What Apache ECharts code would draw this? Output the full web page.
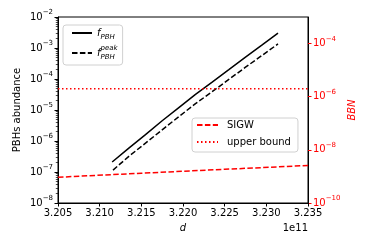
<!DOCTYPE html>
<html><head><meta charset="utf-8">
<script src="https://cdn.jsdelivr.net/npm/echarts@6/dist/echarts.min.js"></script>
<style>html,body{margin:0;padding:0;background:#fff}#c{width:374px;height:249px}</style>
</head><body><div id="c"></div>
<script>
// d in units of 1e11
const dPBH = [3.2115, 3.2135, 3.2155, 3.2175, 3.2195, 3.2215, 3.2235, 3.2255, 3.2275, 3.2295, 3.2314];
const fPBH = [2.1e-7, 5.9e-7, 1.6e-6, 4.5e-6, 1.2e-5, 3.2e-5, 7.9e-5, 2.0e-4, 5.1e-4, 1.26e-3, 3.0e-3];
const dPeak = [3.2116, 3.2135, 3.2155, 3.2175, 3.2195, 3.2215, 3.2235, 3.2255, 3.2275, 3.2295, 3.2314];
const fPeak = [1.15e-7, 3.2e-7, 8.5e-7, 2.3e-6, 6.1e-6, 1.6e-5, 3.9e-5, 9.7e-5, 2.4e-4, 5.8e-4, 1.35e-3];
const dSIGW = [3.205, 3.215, 3.225, 3.235];
const sigw = [9.3e-10, 1.32e-9, 1.85e-9, 2.6e-9];
const dBound = [3.205, 3.235];
const upperBound = [2e-6, 2e-6];
const leftTicks = [1e-8, 1e-7, 1e-6, 1e-5, 1e-4, 1e-3, 1e-2];
const rightTicks = [1e-10, 1e-8, 1e-6, 1e-4];
const minorMultipliers = [2, 3, 4, 5, 6, 7, 8, 9];

const FONT = 'DejaVu Sans';
const minorLeft = [];
for (let e = -8; e < -2; e++) minorMultipliers.forEach(k => minorLeft.push(k * Math.pow(10, e)));

function pairs(xs, ys) { return xs.map((x, i) => [x, ys[i]]); }
function expFmt(v) {
  const e = Math.round(Math.log10(v));
  return '{b|10}{s|' + (e < 0 ? '\u2212' : '') + Math.abs(e) + '}';
}
const richL = {
  b: {fontSize: 10, lineHeight: 16, fontFamily: FONT, color: '#000'},
  s: {fontSize: 7, lineHeight: 9, verticalAlign: 'top', fontFamily: FONT, color: '#000'}
};
const richR = {
  b: {fontSize: 10, lineHeight: 16, fontFamily: FONT, color: '#ff0000'},
  s: {fontSize: 7, lineHeight: 9, verticalAlign: 'top', fontFamily: FONT, color: '#ff0000'}
};

const chart = echarts.init(document.getElementById('c'), null, {renderer: 'canvas'});
chart.setOption({
  animation: false,
  textStyle: {fontFamily: FONT},
  grid: {left: 58, right: 66, top: 17, bottom: 46, show: true, borderColor: '#000', borderWidth: 1, backgroundColor: 'transparent'},
  xAxis: {
    type: 'value', min: 3.205, max: 3.235, interval: 0.005,
    name: 'd', nameLocation: 'middle', nameGap: 20,
    nameTextStyle: {fontStyle: 'italic', fontSize: 10, fontFamily: FONT, color: '#000'},
    axisLine: {lineStyle: {color: '#000', width: 1}},
    axisTick: {length: 3.5, lineStyle: {color: '#000'}},
    axisLabel: {margin: 5, fontSize: 10, fontFamily: FONT, color: '#000', formatter: v => v.toFixed(3)},
    splitLine: {show: false}
  },
  yAxis: [
    {
      type: 'log', logBase: 10, min: 1e-8, max: 1e-2, position: 'left',
      name: 'PBHs abundance', nameLocation: 'middle', nameGap: 36, nameRotate: 90, nameMoveOverlap: false,
      nameTextStyle: {fontSize: 10, fontFamily: FONT, color: '#000'},
      axisLine: {show: true, lineStyle: {color: '#000', width: 1}},
      axisTick: {show: true, length: 3.5, customValues: leftTicks, lineStyle: {color: '#000'}},
      axisLabel: {margin: 5, customValues: leftTicks, formatter: expFmt, rich: richL},
      splitLine: {show: false}
    },
    {
      type: 'log', logBase: 10, min: 1e-10, max: 1e-3, position: 'right',
      name: 'BBN', nameLocation: 'middle', nameGap: 39, nameRotate: 90, nameMoveOverlap: false,
      nameTextStyle: {fontSize: 10, fontStyle: 'italic', fontFamily: FONT, color: '#ff0000'},
      axisLine: {show: true, lineStyle: {color: '#000', width: 1}},
      axisTick: {show: true, length: 3.5, customValues: rightTicks, lineStyle: {color: '#ff0000'}},
      axisLabel: {margin: 5, customValues: rightTicks, formatter: expFmt, rich: richR},
      splitLine: {show: false}
    },
    {
      type: 'log', logBase: 10, min: 1e-8, max: 1e-2, position: 'left',
      axisLine: {show: false},
      axisTick: {show: true, length: 2.2, customValues: minorLeft, lineStyle: {color: '#000', width: 0.7}},
      axisLabel: {show: false},
      splitLine: {show: false}
    }
  ],
  legend: [
    {
      data: ['fPBH', 'fPeak'], orient: 'vertical', left: 63, top: 25,
      padding: [3, 5, 4, 8], itemGap: 4, itemWidth: 20, itemHeight: 10,
      itemStyle: {opacity: 0},
      borderColor: '#d0d0d0', borderWidth: 1, borderRadius: 3, backgroundColor: 'rgba(255,255,255,0.8)',
      formatter: n => n === 'fPBH' ? '{i|f}{sub|PBH}' : '{i|f}{sup|peak}{sub|PBH}',
      textStyle: {
        fontFamily: FONT, color: '#000',
        rich: {
          i: {fontSize: 10, fontStyle: 'italic', lineHeight: 16, fontFamily: FONT, color: '#000'},
          sub: {fontSize: 7, fontStyle: 'italic', lineHeight: 9, verticalAlign: 'bottom', fontFamily: FONT, color: '#000'},
          sup: {fontSize: 7, fontStyle: 'italic', lineHeight: 9, width: 0, verticalAlign: 'top', fontFamily: FONT, color: '#000'}
        }
      }
    },
    {
      data: ['SIGW', 'upper bound'], orient: 'vertical', left: 192, top: 118,
      padding: [2, 7, 5, 4], itemGap: 7, itemWidth: 21, itemHeight: 10,
      itemStyle: {opacity: 0},
      borderColor: '#d0d0d0', borderWidth: 1, borderRadius: 3, backgroundColor: 'rgba(255,255,255,0.8)',
      textStyle: {fontFamily: FONT, fontSize: 10, color: '#000', padding: [0, 0, 0, 4]}
    }
  ],
  graphic: [
    {type: 'text', right: 66, top: 223, style: {text: '1e11', fontFamily: FONT, fontSize: 10, fill: '#000', textAlign: 'right'}}
  ],
  series: [
    {name: 'fPBH', type: 'line', yAxisIndex: 0, data: pairs(dPBH, fPBH), showSymbol: false, symbol: 'none',
     lineStyle: {color: '#000', width: 1.5, type: 'solid'}, itemStyle: {color: '#000'}},
    {name: 'fPeak', type: 'line', yAxisIndex: 0, data: pairs(dPeak, fPeak), showSymbol: false, symbol: 'none',
     lineStyle: {color: '#000', width: 1.5, type: [5.5, 2.4]}, itemStyle: {color: '#000'}},
    {name: 'SIGW', type: 'line', yAxisIndex: 1, data: pairs(dSIGW, sigw), showSymbol: false, symbol: 'none',
     lineStyle: {color: '#ff0000', width: 1.5, type: [5.5, 2.4]}, itemStyle: {color: '#ff0000'}},
    {name: 'upper bound', type: 'line', yAxisIndex: 1, data: pairs(dBound, upperBound), showSymbol: false, symbol: 'none',
     lineStyle: {color: '#ff0000', width: 1.5, type: [1.5, 2.5]}, itemStyle: {color: '#ff0000'}}
  ]
});
</script></body></html>
